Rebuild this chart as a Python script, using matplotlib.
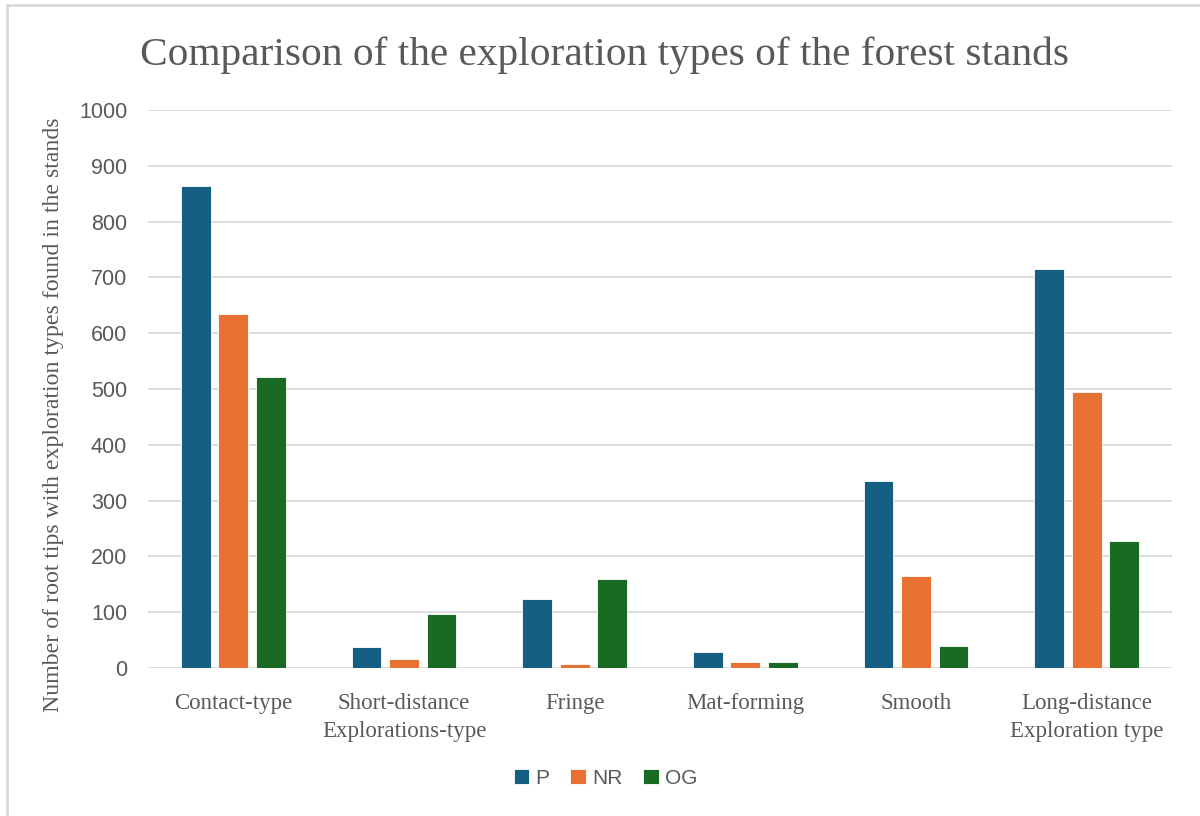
import numpy as np
import matplotlib.pyplot as plt
from matplotlib.patches import Rectangle

categories = ["Contact-type", "Short-distance\nExplorations-type", "Fringe",
              "Mat-forming", "Smooth", "Long-distance\nExploration type"]
p_vals = [864, 37, 124, 28, 335, 715]
nr_vals = [634, 16, 7, 10, 164, 495]
og_vals = [521, 97, 160, 10, 39, 228]
series = ["P", "NR", "OG"]
colors = ["#156082", "#E97132", "#196B24"]
yticks = [0, 100, 200, 300, 400, 500, 600, 700, 800, 900, 1000]

txt = "#595959"
serif = "Liberation Serif"
sans = "Liberation Sans"

fig = plt.figure(figsize=(12, 8.16), dpi=100)
ax = fig.add_axes([148 / 1200, 1 - 668 / 816, 1024 / 1200, 558 / 816])

# rahmen um die ganze grafik
fig.patches.append(Rectangle((7 / 1200, -0.01), 1.1, 1 - 5 / 816 + 0.01,
                             transform=fig.transFigure, fill=False,
                             edgecolor="#D9D9D9", linewidth=2))

x = np.arange(len(categories))
w = 0.175
step = 0.22
for i, (vals, name) in enumerate(zip([p_vals, nr_vals, og_vals], series)):
    ax.bar(x + (i - 1) * step, vals, width=w, color=colors[i], label=name,
           edgecolor="white", linewidth=0.6, zorder=3)

ax.set_xlim(-0.5, len(categories) - 0.5)
ax.set_ylim(0, 1000)
ax.set_yticks(yticks)
ax.set_yticklabels([str(t) for t in yticks], fontsize=15.5, color=txt, family=sans)
ax.set_xticks(x)
ax.set_xticklabels(categories, fontsize=16.5, color=txt, family=serif, linespacing=1.45)
ax.tick_params(axis="both", length=0)
ax.tick_params(axis="x", pad=18)
ax.tick_params(axis="y", pad=15)
ax.grid(axis="y", color="#D9D9D9", linewidth=1.3, zorder=0)
for s in ax.spines.values():
    s.set_visible(False)

# y-achsentitel frei positioniert
fig.text(54 / 1200, 1 - 415 / 816,
         "Number of root tips with exploration types found in the stands",
         rotation=90, ha="center", va="center", fontsize=17.2, color=txt, family=serif)
fig.text(0.5035, 1 - 55 / 816, "Comparison of the exploration types of the forest stands",
         ha="center", va="center", fontsize=29.8, color=txt, family=serif)

ax.legend(loc="center", bbox_to_anchor=(0.447, -0.198), ncol=3, frameon=False,
          prop={"family": sans, "size": 15}, labelcolor=txt,
          handlelength=0.75, handleheight=0.75, handletextpad=0.3, columnspacing=1.0)

fig.savefig("out.png", dpi=100)
